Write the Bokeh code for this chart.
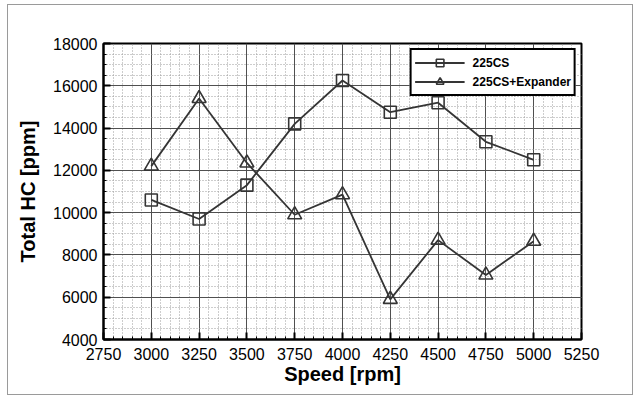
from bokeh.plotting import figure
from bokeh.models import SingleIntervalTicker, Range1d, Legend, LegendItem
from bokeh.embed import file_html
from bokeh.resources import INLINE

speed = [3000, 3250, 3500, 3750, 4000, 4250, 4500, 4750, 5000]
hc_225cs = [10600, 9700, 11300, 14200, 16250, 14750, 15200, 13350, 12500]
hc_225cs_exp = [12200, 15400, 12350, 9900, 10850, 5900, 8700, 7050, 8650]

FONT = "Liberation Sans"
DARK = "#353535"

p = figure(width=626, height=391, output_backend="svg", toolbar_location=None,
           x_range=Range1d(2750, 5250), y_range=Range1d(4000, 18000),
           min_border_left=95, min_border_right=53, min_border_top=38, min_border_bottom=57,
           background_fill_color="white", border_fill_color="white")
p.title = None
p.styles = {"border": "1px solid #9a9a9a", "margin": "4px 0px 0px 7px"}

p.xaxis.ticker = SingleIntervalTicker(interval=250, num_minor_ticks=5)
p.yaxis.ticker = SingleIntervalTicker(interval=2000, num_minor_ticks=4)

for ax in (p.xaxis, p.yaxis):
    ax.axis_line_color = "black"
    ax.axis_line_width = 2
    ax.major_tick_in = 7
    ax.major_tick_out = 0
    ax.major_tick_line_width = 2
    ax.major_tick_line_color = "black"
    ax.minor_tick_in = 3
    ax.minor_tick_out = 0
    ax.minor_tick_line_color = "black"
    ax.major_label_text_font = FONT
    ax.major_label_text_font_size = "16px"
    ax.major_label_text_color = "black"
    ax.axis_label_text_font = FONT
    ax.axis_label_text_font_size = "20px"
    ax.axis_label_text_font_style = "bold"
    ax.axis_label_text_color = "black"

p.xaxis.axis_label = "Speed [rpm]"
p.yaxis.axis_label = "Total HC [ppm]"
p.xaxis.major_label_standoff = 8
p.xaxis.axis_label_standoff = 0
p.yaxis.major_label_standoff = 6
p.yaxis.axis_label_standoff = 11

for g in (p.xgrid, p.ygrid):
    g.grid_line_color = "#505050"
    g.grid_line_width = 1
    g.grid_line_alpha = 1
    g.minor_grid_line_color = "#9a9a9a"
    g.minor_grid_line_dash = "1 2"
    g.minor_grid_line_width = 1

p.outline_line_color = "black"
p.outline_line_width = 2
p.outline_line_alpha = 1

l1 = p.line(speed, hc_225cs, line_color=DARK, line_width=1.8)
s1 = p.scatter(speed, hc_225cs, marker="square", size=12, fill_color=None,
               line_color=DARK, line_width=1.6)
l2 = p.line(speed, hc_225cs_exp, line_color=DARK, line_width=1.8)
s2 = p.scatter(speed, hc_225cs_exp, marker="triangle", size=14, fill_color=None,
               line_color=DARK, line_width=1.6)

legend = Legend(items=[LegendItem(label="225CS", renderers=[l1, s1]),
                       LegendItem(label="225CS+Expander", renderers=[l2, s2])],
                location="top_right", margin=5)
legend.label_text_font = FONT
legend.label_text_font_size = "12px"
legend.label_text_font_style = "bold"
legend.label_text_color = "black"
legend.glyph_width = 50
legend.glyph_height = 19
legend.label_height = 18
legend.label_standoff = 8
legend.padding = 3
legend.spacing = 0
legend.border_line_color = "black"
legend.border_line_width = 2
legend.border_line_alpha = 1
legend.background_fill_color = "white"
legend.background_fill_alpha = 1
p.add_layout(legend)

open("out.html", "w").write(file_html(p, INLINE))
